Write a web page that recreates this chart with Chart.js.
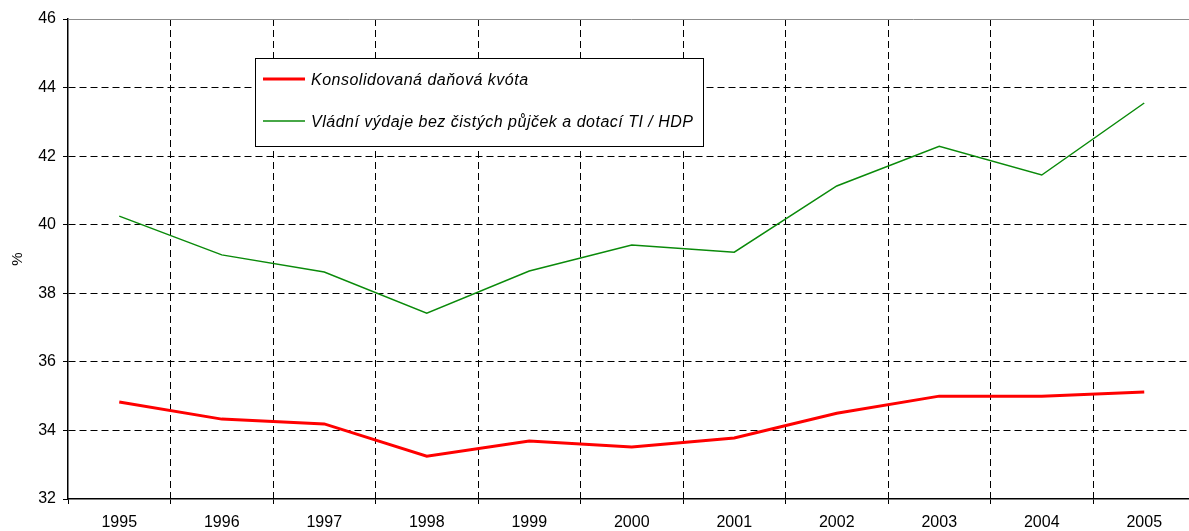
<!DOCTYPE html>
<html>
<head>
<meta charset="utf-8">
<script src="https://cdn.jsdelivr.net/npm/chart.js@4"></script>
<style>
  html, body { margin: 0; padding: 0; background: #fff; overflow: hidden; }
  #wrap { width: 1189px; height: 531px; overflow: hidden; }
  canvas { display: block; }
</style>
</head>
<body>
<div id="wrap"><canvas id="chart" width="1200" height="531"></canvas></div>
<script>
// ---------- data ----------
const years = ['1995', '1996', '1997', '1998', '1999', '2000', '2001', '2002', '2003', '2004', '2005'];
const taxQuota = [34.83, 34.33, 34.19, 33.25, 33.69, 33.52, 33.78, 34.5, 35.0, 35.0, 35.12];
const govSpending = [40.25, 39.12, 38.62, 37.42, 38.65, 39.41, 39.2, 41.13, 42.29, 41.45, 43.55];
const yTicks = [32, 34, 36, 38, 40, 42, 44, 46];

const font = 'Liberation Sans, Arial, sans-serif';

// rámeček nahoře + legenda uvnitř grafu
const frameAndLegend = {
  id: 'frameAndLegend',
  afterDatasetsDraw(chart) {
    const { ctx, chartArea } = chart;
    ctx.save();
    // horní šedá linka
    ctx.strokeStyle = '#8c8c8c';
    ctx.lineWidth = 1;
    ctx.beginPath();
    ctx.moveTo(chartArea.left, chartArea.top + 0.5);
    ctx.lineTo(chartArea.right, chartArea.top + 0.5);
    ctx.stroke();

    // legenda
    const bx = 255.5, by = 58.5, bw = 448, bh = 88;
    ctx.fillStyle = '#fff';
    ctx.fillRect(bx, by, bw, bh);
    ctx.strokeStyle = '#000';
    ctx.strokeRect(bx, by, bw, bh);
    ctx.font = 'italic 16px ' + font;
    ctx.letterSpacing = '0.5px';
    ctx.textBaseline = 'middle';
    chart.data.datasets.forEach((ds, i) => {
      const y = 79 + i * 42;
      ctx.strokeStyle = ds.borderColor;
      ctx.lineWidth = ds.borderWidth;
      ctx.beginPath();
      ctx.moveTo(263, y);
      ctx.lineTo(305, y);
      ctx.stroke();
      ctx.fillStyle = '#000';
      ctx.fillText(ds.label, 311, y + 2);
    });
    ctx.restore();
  }
};

new Chart(document.getElementById('chart'), {
  type: 'line',
  data: {
    labels: years,
    datasets: [
      {
        label: 'Konsolidovaná daňová kvóta',
        data: taxQuota,
        borderColor: '#ff0000',
        borderWidth: 3,
        pointRadius: 0,
        tension: 0
      },
      {
        label: 'Vládní výdaje bez čistých půjček a dotací TI / HDP',
        data: govSpending,
        borderColor: '#0a8a0a',
        borderWidth: 1.5,
        pointRadius: 0,
        tension: 0
      }
    ]
  },
  options: {
    responsive: false,
    animation: false,
    layout: { padding: { top: 19, right: 4.5, left: 0, bottom: 0 } },
    plugins: {
      legend: { display: false },
      tooltip: { enabled: false }
    },
    scales: {
      x: {
        type: 'category',
        offset: true,
        grid: {
          offset: true,
          color: c => (c.index === 0 ? 'rgba(0,0,0,0)' : '#000'),
          lineWidth: 1,
          tickLength: 5,
          tickColor: '#000'
        },
        border: { display: true, color: '#000', width: 1.5, dash: [7, 4] },
        ticks: { color: '#000', font: { family: font, size: 16 }, padding: 9, maxRotation: 0 },
        afterFit(s) { s.height = 32; }
      },
      y: {
        min: 32,
        max: 46,
        afterBuildTicks(s) { s.ticks = yTicks.map(v => ({ value: v })); },
        grid: {
          color: c => (c.tick && (c.tick.value === 32 || c.tick.value === 46) ? 'rgba(0,0,0,0)' : '#000'),
          lineWidth: 1,
          tickLength: 5,
          tickColor: '#000'
        },
        border: { display: true, color: '#000', width: 1.5, dash: [7, 4] },
        ticks: { color: '#000', font: { family: font, size: 16 }, padding: 7 },
        title: {
          display: true,
          text: '%',
          color: '#000',
          font: { family: font, size: 15 },
          padding: { top: 9, bottom: 0 }
        },
        afterFit(s) { s.width = 68; }
      }
    }
  },
  plugins: [frameAndLegend]
});
</script>
</body>
</html>
